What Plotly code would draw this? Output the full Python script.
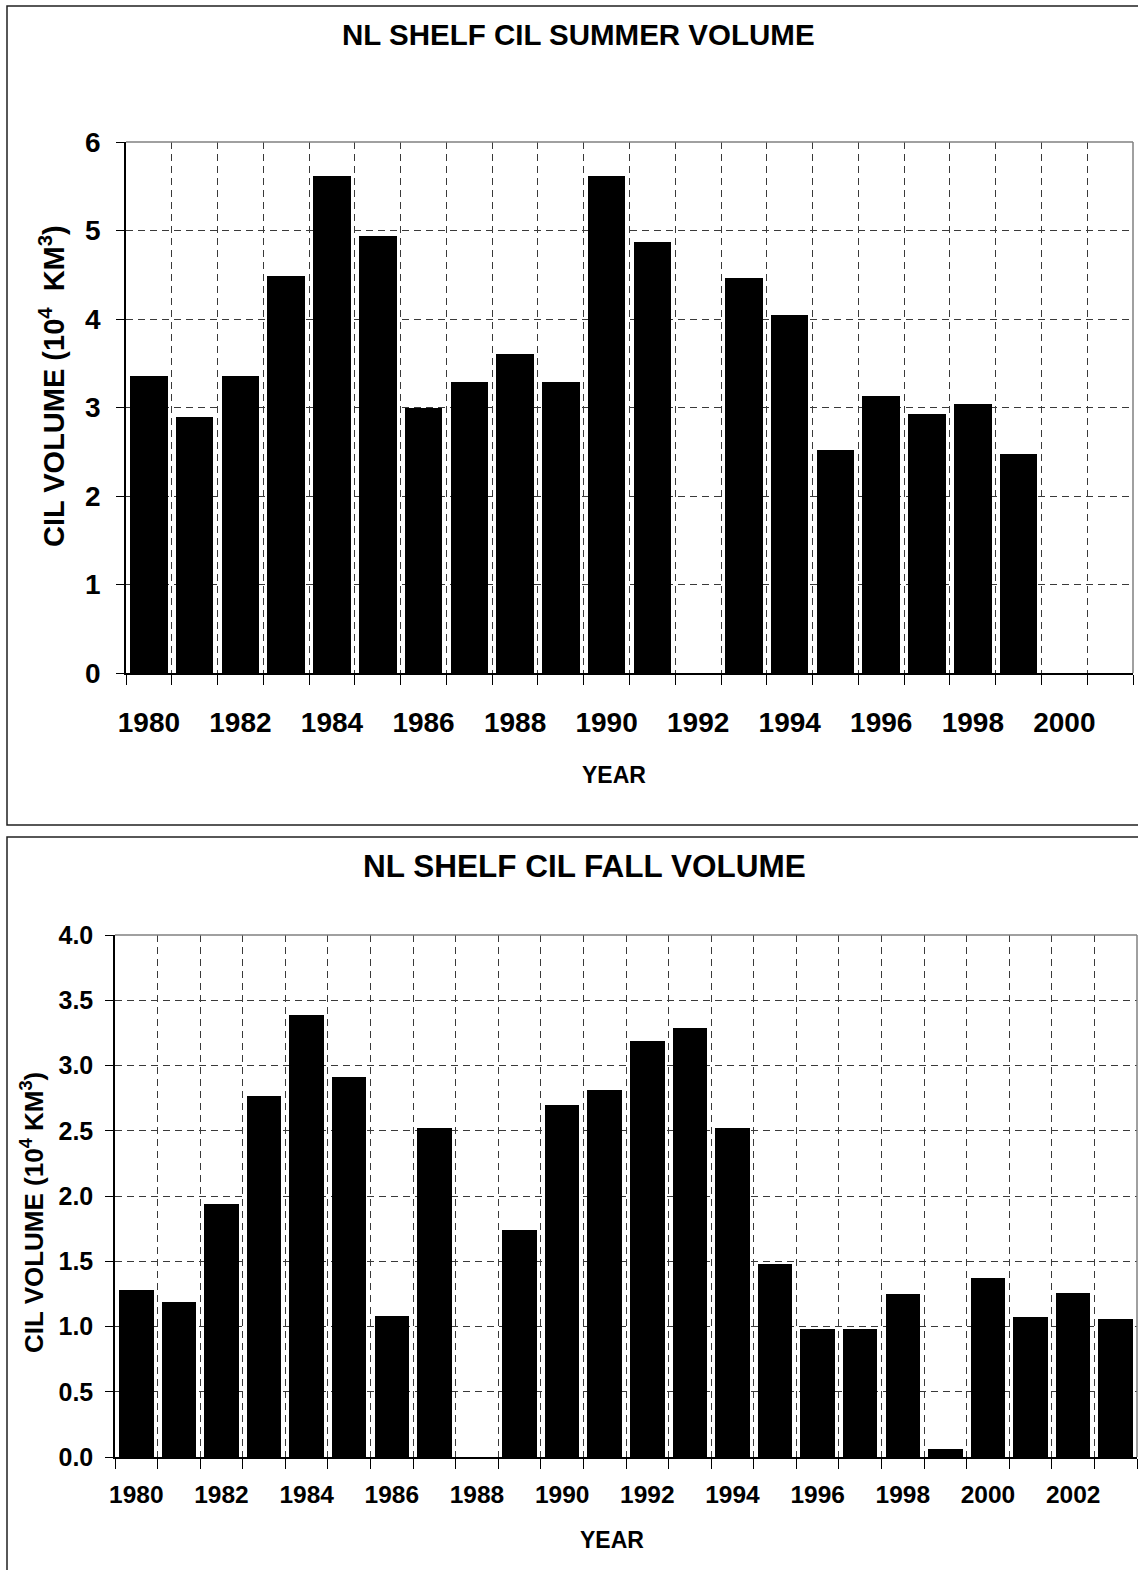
import plotly.graph_objects as go

W, H = 1138, 1570

# ---- data ----
summer_years = list(range(1980, 2002))
summer_volume = [3.36, 2.89, 3.36, 4.49, 5.62, 4.94, 2.99, 3.29, 3.60, 3.29, 5.62, 4.87,
                 None, 4.46, 4.05, 2.52, 3.13, 2.93, 3.04, 2.47, None, None]

fall_years = list(range(1980, 2004))
fall_volume = [1.28, 1.19, 1.94, 2.77, 3.39, 2.91, 1.08, 2.52, None, 1.74, 2.70, 2.81,
               3.19, 3.29, 2.52, 1.48, 0.98, 0.98, 1.25, 0.06, 1.37, 1.07, 1.26, 1.06]

summer_title = "NL SHELF CIL SUMMER VOLUME"
fall_title = "NL SHELF CIL FALL VOLUME"
summer_ytitle = "CIL VOLUME (10<sup>4</sup>  KM<sup>3</sup>)"
fall_ytitle = "CIL VOLUME (10<sup>4</sup> KM<sup>3</sup>)"
xtitle = "YEAR"

FONT = "Liberation Sans, Arial, sans-serif"
GRID = "#3a3a3a"


def fx(p):
    return p / W


def fy(p):
    return 1 - p / H


fig = go.Figure()
fig.add_trace(go.Bar(x=summer_years, y=summer_volume, width=0.82,
                     marker=dict(color="black", line=dict(width=0)),
                     xaxis="x", yaxis="y", showlegend=False))
fig.add_trace(go.Bar(x=fall_years, y=fall_volume, width=0.81,
                     marker=dict(color="black", line=dict(width=0)),
                     xaxis="x2", yaxis="y2", showlegend=False))

# plot area pixel boxes
top_box = dict(l=126, r=1133, t=142, b=673)
bot_box = dict(l=115, r=1137, t=935, b=1457)


def xaxis_cfg(box, first, last, fsize, standoff):
    return dict(
        domain=[fx(box["l"]), fx(box["r"])],
        range=[first - 0.5, last + 0.5],
        tick0=1980, dtick=2, tickformat="d",
        ticks="", showgrid=False, zeroline=False, automargin=False,
        showline=True, linecolor="black", linewidth=1.5,
        tickfont=dict(family=FONT, size=fsize, color="black", weight="bold"),
        ticklabelstandoff=standoff,
        minor=dict(tick0=first - 0.5, dtick=1, ticks="outside", ticklen=10,
                   tickcolor="black", tickwidth=1, showgrid=True,
                   gridcolor=GRID, gridwidth=1, griddash="7px,5px"),
        fixedrange=True,
    )


def yaxis_cfg(box, rng, dtick, fmt, fsize, standoff, anchor):
    return dict(
        domain=[fy(box["b"]), fy(box["t"])],
        range=rng, dtick=dtick, tickformat=fmt,
        ticks="outside", ticklen=8, tickcolor="black", tickwidth=1,
        showgrid=True, gridcolor=GRID, gridwidth=1, griddash="7px,5px",
        zeroline=False, showline=True, linecolor="black", linewidth=1.5,
        automargin=False,
        tickfont=dict(family=FONT, size=fsize, color="black", weight="bold"),
        ticklabelstandoff=standoff,
        anchor=anchor, fixedrange=True,
    )


layout = dict(
    width=W, height=H, margin=dict(l=0, r=0, t=0, b=0, pad=0, autoexpand=False),
    paper_bgcolor="white", plot_bgcolor="white", bargap=0,
    xaxis=dict(xaxis_cfg(top_box, 1980, 2001, 28, 24), anchor="y"),
    yaxis=yaxis_cfg(top_box, [0, 6], 1, "d", 28, 10, "x"),
    xaxis2=dict(xaxis_cfg(bot_box, 1980, 2003, 24.5, 15), anchor="y2"),
    yaxis2=yaxis_cfg(bot_box, [0, 4], 0.5, ".1f", 25, 7, "x2"),
    showlegend=False,
)
fig.update_layout(**layout)

shapes = []
# plot-area gray frames (top and right edges)
for box in (top_box, bot_box):
    shapes.append(dict(type="line", xref="paper", yref="paper",
                       x0=fx(box["l"]), x1=fx(box["r"]), y0=fy(box["t"]), y1=fy(box["t"]),
                       line=dict(color="#808080", width=1.5), layer="above"))
    shapes.append(dict(type="line", xref="paper", yref="paper",
                       x0=fx(box["r"]), x1=fx(box["r"]), y0=fy(box["t"]), y1=fy(box["b"]),
                       line=dict(color="#808080", width=1.5), layer="above"))
# panel borders
shapes.append(dict(type="rect", xref="paper", yref="paper",
                   x0=fx(7), x1=fx(1145), y0=fy(825), y1=fy(6),
                   line=dict(color="#202020", width=1.5)))
shapes.append(dict(type="rect", xref="paper", yref="paper",
                   x0=fx(7), x1=fx(1145), y0=fy(1580), y1=fy(837),
                   line=dict(color="#202020", width=1.5)))
fig.update_layout(shapes=shapes)


def ann(text, x, y, size, angle=0):
    return dict(text=text, x=fx(x), y=fy(y), xref="paper", yref="paper",
                xanchor="center", yanchor="middle", showarrow=False, textangle=angle,
                font=dict(family=FONT, size=size, color="black", weight="bold"))


fig.update_layout(annotations=[
    ann(summer_title, 578, 35, 29.5),
    ann(xtitle, 614, 775, 23),
    ann(summer_ytitle, 52, 386, 29, -90),
    ann(fall_title, 584, 866, 31.5),
    ann(xtitle, 612, 1540, 23),
    ann(fall_ytitle, 32, 1213, 26, -90),
])

fig.write_html("out.html")
